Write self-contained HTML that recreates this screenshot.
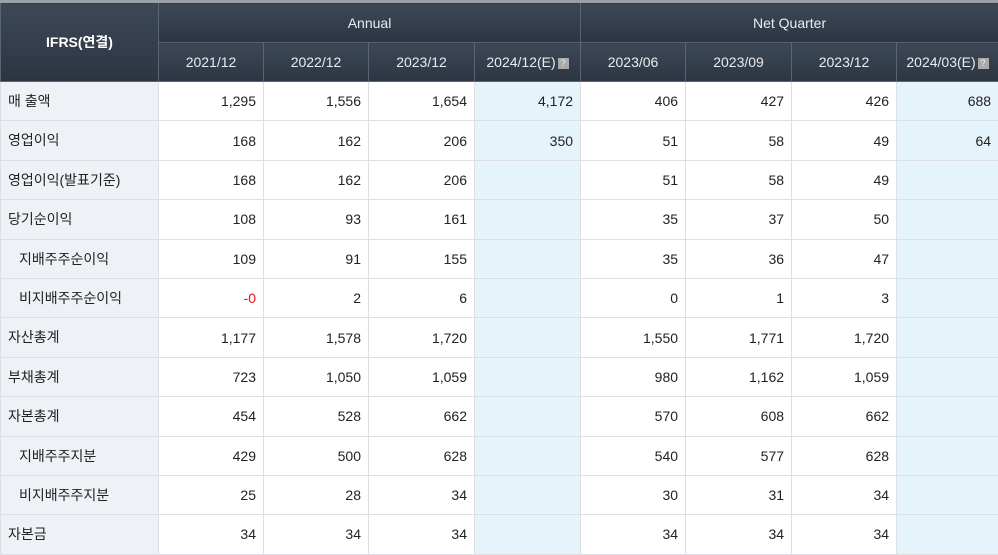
<!DOCTYPE html>
<html><head><meta charset="utf-8"><style>
body{margin:0;width:998px;height:552px;overflow:hidden;background:#fff;font-family:"Liberation Sans","Noto Sans CJK KR",sans-serif;}
table{border-collapse:collapse;table-layout:fixed;width:998px;position:absolute;left:0;top:0;}
th{background:linear-gradient(#3d4857,#2c3542);color:#e8ecf0;font-weight:normal;font-size:14px;border:1px solid #5a6573;padding:0;}
tr.h1 th{height:39px;border-top:3px solid #9aa0a8;}
tr.h2 th{height:38px;}
th.corner{font-weight:bold;font-size:14px;color:#fff;}
td{height:38.4px;border:1px solid #dcdfe3;font-size:14px;color:#222;text-align:right;padding:0 7px 0 0;}
td.lab{text-align:left;background:#eef2f7;padding-left:7px;vertical-align:top;padding-top:9px;height:29.4px;}
td.lab.ind{padding-left:18px;}
td.est{background:#e5f3fa;}
.q{display:inline-block;width:11px;height:11px;background:#aaa;color:#eee;font-size:9px;line-height:11px;text-align:center;vertical-align:1px;margin-left:2px;}
.neg{color:#e8141e;}
</style></head><body>
<table>
<colgroup><col style="width:158px"><col style="width:105px"><col style="width:105px"><col style="width:106px"><col style="width:106px"><col style="width:105px"><col style="width:106px"><col style="width:105px"><col style="width:102px"></colgroup>
<tr class="h1"><th class="corner" rowspan="2">IFRS(연결)</th><th colspan="4">Annual</th><th colspan="4">Net Quarter</th></tr>
<tr class="h2"><th>2021/12</th><th>2022/12</th><th>2023/12</th><th>2024/12(E)<span class="q">?</span></th><th>2023/06</th><th>2023/09</th><th>2023/12</th><th>2024/03(E)<span class="q">?</span></th></tr>
<tr><td class="lab">매 출액</td><td>1,295</td><td>1,556</td><td>1,654</td><td class="est">4,172</td><td>406</td><td>427</td><td>426</td><td class="est">688</td></tr>
<tr><td class="lab">영업이익</td><td>168</td><td>162</td><td>206</td><td class="est">350</td><td>51</td><td>58</td><td>49</td><td class="est">64</td></tr>
<tr><td class="lab">영업이익(발표기준)</td><td>168</td><td>162</td><td>206</td><td class="est"></td><td>51</td><td>58</td><td>49</td><td class="est"></td></tr>
<tr><td class="lab">당기순이익</td><td>108</td><td>93</td><td>161</td><td class="est"></td><td>35</td><td>37</td><td>50</td><td class="est"></td></tr>
<tr><td class="lab ind">지배주주순이익</td><td>109</td><td>91</td><td>155</td><td class="est"></td><td>35</td><td>36</td><td>47</td><td class="est"></td></tr>
<tr><td class="lab ind">비지배주주순이익</td><td class="neg">-0</td><td>2</td><td>6</td><td class="est"></td><td>0</td><td>1</td><td>3</td><td class="est"></td></tr>
<tr><td class="lab">자산총계</td><td>1,177</td><td>1,578</td><td>1,720</td><td class="est"></td><td>1,550</td><td>1,771</td><td>1,720</td><td class="est"></td></tr>
<tr><td class="lab">부채총계</td><td>723</td><td>1,050</td><td>1,059</td><td class="est"></td><td>980</td><td>1,162</td><td>1,059</td><td class="est"></td></tr>
<tr><td class="lab">자본총계</td><td>454</td><td>528</td><td>662</td><td class="est"></td><td>570</td><td>608</td><td>662</td><td class="est"></td></tr>
<tr><td class="lab ind">지배주주지분</td><td>429</td><td>500</td><td>628</td><td class="est"></td><td>540</td><td>577</td><td>628</td><td class="est"></td></tr>
<tr><td class="lab ind">비지배주주지분</td><td>25</td><td>28</td><td>34</td><td class="est"></td><td>30</td><td>31</td><td>34</td><td class="est"></td></tr>
<tr><td class="lab">자본금</td><td>34</td><td>34</td><td>34</td><td class="est"></td><td>34</td><td>34</td><td>34</td><td class="est"></td></tr>
</table>
</body></html>
